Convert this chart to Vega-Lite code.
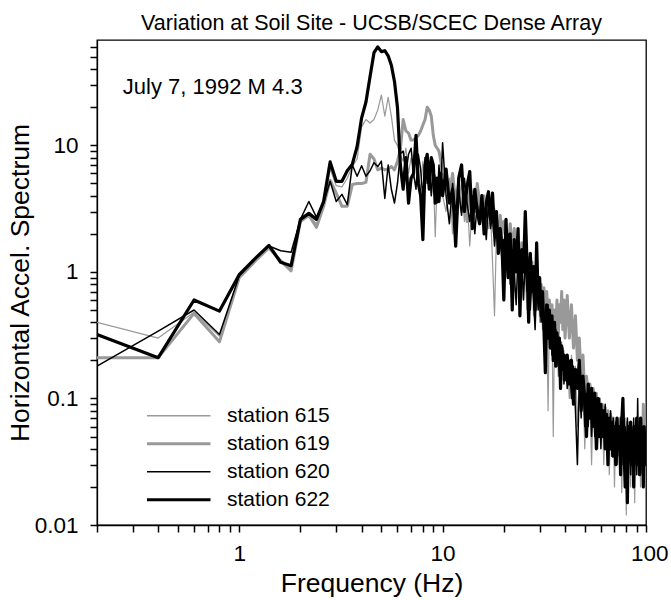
{
  "$schema": "https://vega.github.io/schema/vega-lite/v6.json",
  "autosize": {"type": "none"},
  "padding": {"left": 97, "top": 40, "right": 25, "bottom": 75},
  "width": 549,
  "height": 485,
  "background": "white",
  "title": {"text": "Variation at Soil Site - UCSB/SCEC Dense Array", "font": "Liberation Sans", "fontSize": 21.5, "fontWeight": "normal", "color": "black", "frame": "group", "anchor": "middle", "offset": 6},
  "config": {
    "view": {"stroke": "black", "strokeWidth": 1.3},
    "axis": {"grid": false, "ticks": true, "domainColor": "black", "domainWidth": 1.3, "tickColor": "black", "tickWidth": 1.5, "labelColor": "black", "titleColor": "black", "labelFont": "Liberation Sans", "titleFont": "Liberation Sans", "labelFontSize": 22.5, "titleFontSize": 26.5, "titleFontWeight": "normal"}
  },
  "data": {"values": [
    {"f":0.2,"615":0.40,"619":0.21,"620":0.18,"622":0.32},
    {"f":0.4,"615":0.30,"619":0.21,"620":0.34,"622":0.21},
    {"f":0.6,"615":0.48,"619":0.47,"620":0.50,"622":0.60},
    {"f":0.8,"615":0.31,"619":0.28,"620":0.32,"622":0.49},
    {"f":1.0,"615":0.92,"619":0.90,"620":0.93,"622":0.95},
    {"f":1.2,"615":1.25,"619":1.22,"620":1.27,"622":1.28},
    {"f":1.4,"615":1.58,"619":1.55,"620":1.60,"622":1.62},
    {"f":1.6,"615":1.25,"619":1.22,"620":1.47,"622":1.19},
    {"f":1.8,"615":1.08,"619":1.02,"620":1.43,"622":1.12},
    {"f":2.0,"615":2.5,"619":2.5,"620":2.6,"622":2.6},
    {"f":2.2,"615":2.8,"619":2.8,"620":3.6,"622":2.9},
    {"f":2.4,"615":2.4,"619":2.25,"620":2.7,"622":2.6},
    {"f":2.6,"615":3.4,"619":3.3,"620":3.5,"622":3.6},
    {"f":2.8,"615":6.5,"619":5.3,"620":5.2,"622":7.4},
    {"f":3.0,"615":4.8,"619":4.2,"620":3.6,"622":5.2},
    {"f":3.2,"615":4.7,"619":3.3,"620":4.1,"622":5.2},
    {"f":3.4,"615":5.5,"619":3.3,"620":3.4,"622":6.3},
    {"f":3.6,"615":6.8,"619":4.9,"620":7.0,"622":7.1},
    {"f":3.8,"615":7.8,"619":5.0,"620":5.7,"622":9.8},
    {"f":4.0,"615":14,"619":5.0,"620":6.9,"622":16.5},
    {"f":4.2,"615":16,"619":5.1,"620":5.7,"622":22},
    {"f":4.4,"615":15,"619":8.5,"620":6.3,"622":35},
    {"f":4.6,"615":16,"619":7.8,"620":7.3,"622":54},
    {"f":4.8,"615":19,"619":6.4,"620":6.8,"622":60},
    {"f":5.0,"615":25,"619":6.6,"620":7.5,"622":55},
    {"f":5.2,"615":17,"619":6.4,"620":3.8,"622":56},
    {"f":5.4,"615":24,"619":6.5,"620":7.0,"622":51},
    {"f":5.6,"615":17,"619":6.8,"620":4.5,"622":43},
    {"f":5.8,"615":11,"619":6.4,"620":3.5,"622":32},
    {"f":6.0,"615":10,"619":7.5,"620":5.0,"622":20},
    {"f":6.2,"615":8.5,"619":9.2,"620":8.6,"622":7.0},
    {"f":6.4,"615":7.5,"619":16,"620":9.0,"622":4.5},
    {"f":6.6,"615":9.5,"619":13,"620":6.0,"622":8.0},
    {"f":6.8,"615":6.0,"619":12.5,"620":8.5,"622":3.5},
    {"f":7.0,"615":8.0,"619":11,"620":9.5,"622":5.5},
    {"f":7.2,"615":5.5,"619":11,"620":6.0,"622":6.0},
    {"f":7.4,"615":9.0,"619":11.5,"620":4.5,"622":12},
    {"f":7.6,"615":6.0,"619":12,"620":8.5,"622":5.0},
    {"f":7.8,"615":4.5,"619":13,"620":6.5,"622":4.0},
    {"f":8.0,"615":7.5,"619":14.5,"620":3.8,"622":1.8},
    {"f":8.2,"615":5.0,"619":16,"620":8.0,"622":7.0},
    {"f":8.4,"615":8.0,"619":20,"620":5.0,"622":8.5},
    {"f":8.6,"615":6.5,"619":19,"620":7.5,"622":4.5},
    {"f":8.8,"615":4.0,"619":17,"620":4.0,"622":8.0},
    {"f":9.0,"615":6.0,"619":12,"620":6.5,"622":7.0},
    {"f":9.2,"615":1.9,"619":10,"620":5.5,"622":3.5},
    {"f":9.4,"615":5.0,"619":9.5,"620":3.5,"622":5.5},
    {"f":9.6,"615":3.5,"619":9.0,"620":7.0,"622":3.6},
    {"f":9.8,"615":6.0,"619":7.5,"620":4.5,"622":6.0},
    {"f":10.0,"615":4.0,"619":6.0,"620":10.5,"622":4.0},
    {"f":10.4,"615":3.0,"619":5.5,"620":4.0,"622":6.5},
    {"f":10.8,"615":5.5,"619":4.0,"620":2.4,"622":3.5},
    {"f":11.2,"615":2.0,"619":6.0,"620":5.0,"622":4.5},
    {"f":11.6,"615":4.5,"619":3.5,"620":3.0,"622":1.6},
    {"f":12.0,"615":3.5,"619":5.0,"620":4.5,"622":5.5},
    {"f":12.4,"615":5.0,"619":3.0,"620":2.8,"622":7.0},
    {"f":12.8,"615":2.5,"619":4.5,"620":5.5,"622":3.0},
    {"f":13.2,"615":4.0,"619":2.5,"620":3.5,"622":4.8},
    {"f":13.6,"615":1.6,"619":5.0,"620":2.5,"622":6.2},
    {"f":14.0,"615":3.5,"619":4.0,"620":4.0,"622":2.2},
    {"f":14.4,"615":3.0,"619":3.0,"620":2.0,"622":4.5},
    {"f":14.8,"615":4.2,"619":5.0,"620":3.5,"622":3.0},
    {"f":15.2,"615":2.6,"619":3.5,"620":2.4,"622":2.4},
    {"f":15.6,"615":3.8,"619":2.5,"620":4.0,"622":4.0},
    {"f":16.0,"615":2.0,"619":4.0,"620":2.8,"622":2.0},
    {"f":16.4,"615":3.2,"619":2.2,"620":1.8,"622":3.5},
    {"f":16.8,"615":2.2,"619":4.2,"620":3.5,"622":4.3},
    {"f":17.2,"615":3.0,"619":2.6,"620":2.2,"622":2.6},
    {"f":17.6,"615":1.2,"619":3.5,"620":2.8,"622":4.2},
    {"f":18.0,"615":0.45,"619":3.0,"620":1.6,"622":2.0},
    {"f":18.4,"615":2.0,"619":2.6,"620":2.4,"622":3.0},
    {"f":18.8,"615":2.5,"619":1.8,"620":1.5,"622":1.4},
    {"f":19.2,"615":1.5,"619":2.8,"620":2.0,"622":2.2},
    {"f":19.6,"615":2.0,"619":2.0,"620":1.2,"622":1.6},
    {"f":20.0,"615":1.4,"619":2.5,"620":1.8,"622":0.6},
    {"f":20.5,"615":1.8,"619":2.2,"620":1.2,"622":2.6},
    {"f":21.0,"615":1.1,"619":1.6,"620":2.0,"622":0.9},
    {"f":21.5,"615":2.0,"619":2.4,"620":0.8,"622":2.0},
    {"f":22.0,"615":1.3,"619":1.4,"620":1.5,"622":0.5},
    {"f":22.5,"615":0.7,"619":2.2,"620":1.0,"622":1.8},
    {"f":23.0,"615":1.6,"619":1.5,"620":0.55,"622":1.0},
    {"f":23.5,"615":1.0,"619":1.9,"620":1.4,"622":2.2},
    {"f":24.0,"615":1.5,"619":1.1,"620":0.8,"622":0.45},
    {"f":24.5,"615":0.6,"619":1.7,"620":1.2,"622":1.5},
    {"f":25.0,"615":1.2,"619":1.0,"620":0.6,"622":1.0},
    {"f":25.5,"615":0.9,"619":1.5,"620":1.3,"622":3.0},
    {"f":26.0,"615":0.5,"619":1.0,"620":0.7,"622":1.2},
    {"f":26.5,"615":1.1,"619":1.3,"620":1.0,"622":0.4},
    {"f":27.0,"615":0.7,"619":0.8,"620":0.5,"622":1.4},
    {"f":27.5,"615":1.0,"619":1.2,"620":0.9,"622":0.7},
    {"f":28.0,"615":0.45,"619":0.7,"620":0.6,"622":1.1},
    {"f":28.5,"615":0.8,"619":1.0,"620":0.35,"622":0.5},
    {"f":29.0,"615":0.6,"619":0.65,"620":0.8,"622":1.7},
    {"f":29.5,"615":0.9,"619":0.9,"620":0.5,"622":0.6},
    {"f":30.0,"615":0.4,"619":0.6,"620":0.7,"622":0.9},
    {"f":30.5,"615":0.65,"619":0.8,"620":0.4,"622":0.45},
    {"f":31.0,"615":0.35,"619":0.55,"620":0.6,"622":0.7},
    {"f":31.5,"615":0.6,"619":0.75,"620":0.3,"622":0.35},
    {"f":32.0,"615":0.3,"619":0.5,"620":0.5,"622":0.16},
    {"f":32.5,"615":0.5,"619":0.7,"620":0.35,"622":0.55},
    {"f":33.0,"615":0.08,"619":0.45,"620":0.55,"622":0.3},
    {"f":33.5,"615":0.45,"619":0.6,"620":0.25,"622":0.5},
    {"f":34.0,"615":0.3,"619":0.35,"620":0.45,"622":0.25},
    {"f":34.5,"615":0.4,"619":0.55,"620":0.22,"622":0.45},
    {"f":35.0,"615":0.05,"619":0.3,"620":0.4,"622":0.2},
    {"f":35.5,"615":0.35,"619":0.5,"620":0.2,"622":0.4},
    {"f":36.0,"615":0.25,"619":0.35,"620":0.35,"622":0.18},
    {"f":36.5,"615":0.35,"619":0.6,"620":0.18,"622":0.33},
    {"f":37.0,"615":0.15,"619":0.3,"620":0.3,"622":0.22},
    {"f":37.5,"615":0.3,"619":0.55,"620":0.15,"622":0.3},
    {"f":38.0,"615":0.2,"619":0.4,"620":0.28,"622":0.12},
    {"f":38.5,"615":0.28,"619":0.7,"620":0.17,"622":0.26},
    {"f":39.0,"615":0.14,"619":0.35,"620":0.25,"622":0.17},
    {"f":39.5,"615":0.24,"619":0.6,"620":0.13,"622":0.22},
    {"f":40,"615":0.16,"619":0.3,"620":0.22,"622":0.14},
    {"f":41,"615":0.2,"619":0.65,"620":0.12,"622":0.22},
    {"f":42,"615":0.1,"619":0.3,"620":0.2,"622":0.13},
    {"f":43,"615":0.22,"619":0.55,"620":0.1,"622":0.2},
    {"f":44,"615":0.12,"619":0.25,"620":0.18,"622":0.09},
    {"f":45,"615":0.18,"619":0.45,"620":0.08,"622":0.17},
    {"f":46,"615":0.06,"619":0.2,"620":0.03,"622":0.12},
    {"f":47,"615":0.16,"619":0.3,"620":0.14,"622":0.2},
    {"f":48,"615":0.09,"619":0.14,"620":0.07,"622":0.08},
    {"f":49,"615":0.14,"619":0.22,"620":0.15,"622":0.15},
    {"f":50,"615":0.04,"619":0.1,"620":0.06,"622":0.1},
    {"f":51,"615":0.12,"619":0.15,"620":0.11,"622":0.05},
    {"f":52,"615":0.07,"619":0.1,"620":0.06,"622":0.13},
    {"f":53,"615":0.11,"619":0.13,"620":0.12,"622":0.07},
    {"f":54,"615":0.03,"619":0.08,"620":0.05,"622":0.12},
    {"f":55,"615":0.1,"619":0.12,"620":0.1,"622":0.06},
    {"f":56,"615":0.06,"619":0.07,"620":0.05,"622":0.11},
    {"f":57,"615":0.09,"619":0.11,"620":0.09,"622":0.04},
    {"f":58,"615":0.04,"619":0.06,"620":0.06,"622":0.1},
    {"f":59,"615":0.08,"619":0.1,"620":0.1,"622":0.05},
    {"f":60,"615":0.05,"619":0.06,"620":0.04,"622":0.09},
    {"f":61,"615":0.09,"619":0.09,"620":0.08,"622":0.05},
    {"f":62,"615":0.03,"619":0.05,"620":0.05,"622":0.08},
    {"f":63,"615":0.08,"619":0.085,"620":0.09,"622":0.04},
    {"f":64,"615":0.05,"619":0.045,"620":0.04,"622":0.075},
    {"f":65,"615":0.075,"619":0.08,"620":0.07,"622":0.03},
    {"f":66,"615":0.025,"619":0.05,"620":0.045,"622":0.07},
    {"f":67,"615":0.07,"619":0.075,"620":0.08,"622":0.04},
    {"f":68,"615":0.04,"619":0.04,"620":0.035,"622":0.065},
    {"f":69,"615":0.065,"619":0.07,"620":0.07,"622":0.035},
    {"f":70,"615":0.02,"619":0.045,"620":0.04,"622":0.06},
    {"f":71,"615":0.06,"619":0.065,"620":0.065,"622":0.03},
    {"f":72,"615":0.035,"619":0.035,"620":0.03,"622":0.07},
    {"f":73,"615":0.07,"619":0.06,"620":0.06,"622":0.04},
    {"f":74,"615":0.03,"619":0.04,"620":0.035,"622":0.06},
    {"f":75,"615":0.055,"619":0.07,"620":0.07,"622":0.025},
    {"f":76,"615":0.018,"619":0.035,"620":0.03,"622":0.065},
    {"f":77,"615":0.06,"619":0.06,"620":0.065,"622":0.1},
    {"f":78,"615":0.03,"619":0.03,"620":0.03,"622":0.04},
    {"f":79,"615":0.07,"619":0.055,"620":0.06,"622":0.02},
    {"f":80,"615":0.012,"619":0.04,"620":0.035,"622":0.05},
    {"f":81,"615":0.055,"619":0.065,"620":0.07,"622":0.015},
    {"f":82,"615":0.025,"619":0.03,"620":0.03,"622":0.06},
    {"f":83,"615":0.06,"619":0.05,"620":0.05,"622":0.035},
    {"f":84,"615":0.02,"619":0.035,"620":0.025,"622":0.065},
    {"f":85,"615":0.065,"619":0.06,"620":0.06,"622":0.03},
    {"f":86,"615":0.03,"619":0.025,"620":0.035,"622":0.055},
    {"f":87,"615":0.05,"619":0.055,"620":0.07,"622":0.02},
    {"f":88,"615":0.015,"619":0.03,"620":0.03,"622":0.06},
    {"f":89,"615":0.06,"619":0.06,"620":0.055,"622":0.035},
    {"f":90,"615":0.025,"619":0.035,"620":0.025,"622":0.07},
    {"f":91,"615":0.07,"619":0.065,"620":0.1,"622":0.03},
    {"f":92,"615":0.03,"619":0.03,"620":0.03,"622":0.06},
    {"f":93,"615":0.055,"619":0.055,"620":0.06,"622":0.025},
    {"f":94,"615":0.02,"619":0.035,"620":0.025,"622":0.07},
    {"f":95,"615":0.06,"619":0.07,"620":0.07,"622":0.035},
    {"f":96,"615":0.03,"619":0.03,"620":0.03,"622":0.055},
    {"f":97,"615":0.065,"619":0.09,"620":0.06,"622":0.02},
    {"f":98,"615":0.025,"619":0.04,"620":0.035,"622":0.06},
    {"f":99,"615":0.06,"619":0.06,"620":0.055,"622":0.03},
    {"f":100,"615":0.03,"619":0.04,"620":0.035,"622":0.04}
  ]},
  "layer": [
    {
      "transform": [{"fold": ["615", "619", "620", "622"], "as": ["station", "v"]}],
      "mark": {"type": "line", "clip": true, "strokeJoin": "round", "strokeCap": "butt"},
      "encoding": {
        "x": {"field": "f", "type": "quantitative",
          "scale": {"type": "log", "domain": [0.2, 100], "nice": false},
          "axis": {"orient": "bottom", "title": "Frequency (Hz)", "titlePadding": 6, "labelPadding": 10, "labelFlushOffset": 22, "format": "~g", "tickSize": 7,
            "values": [0.2,0.3,0.4,0.5,0.6,0.7,0.8,0.9,1,2,3,4,5,6,7,8,9,10,20,30,40,50,60,70,80,90,100],
            "labelExpr": "datum.value == 1 || datum.value == 10 || datum.value == 100 ? datum.label : ''"}},
        "y": {"field": "v", "type": "quantitative",
          "scale": {"type": "log", "domain": [0.01, 68], "nice": false},
          "axis": {"orient": "left", "title": "Horizontal Accel. Spectrum", "titlePadding": 0, "labelPadding": 12, "format": "~g", "tickSize": 7,
            "values": [0.01,0.02,0.03,0.04,0.05,0.06,0.07,0.08,0.09,0.1,0.2,0.3,0.4,0.5,0.6,0.7,0.8,0.9,1,2,3,4,5,6,7,8,9,10,20,30,40,50,60],
            "labelExpr": "datum.value == 0.01 || datum.value == 0.1 || datum.value == 1 || datum.value == 10 ? datum.label : ''"}},
        "color": {"field": "station", "type": "nominal",
          "scale": {"domain": ["615", "619", "620", "622"], "range": ["#999999", "#999999", "#000000", "#000000"]},
          "legend": {"orient": "none", "legendX": 50, "legendY": 362, "title": null, "symbolType": "stroke", "symbolSize": 4096, "symbolOffset": 21, "clipHeight": 27.5, "rowPadding": 0, "labelOffset": 38, "labelFont": "Liberation Sans", "labelFontSize": 21, "labelColor": "black", "labelLimit": 300,
            "labelExpr": "'station ' + datum.label",
            "encode": {"symbols": {"update": {"strokeWidth": {"signal": "datum.value == '619' || datum.value == '622' ? 3.2 : 1.3"}}}}}},
        "strokeWidth": {"condition": [{"test": "datum.station == '619'", "value": 3}, {"test": "datum.station == '622'", "value": 3.2}, {"test": "datum.station == '620'", "value": 1.5}], "value": 1.2}
      }
    },
    {
      "data": {"values": [{"note": "July 7, 1992 M 4.3"}]},
      "mark": {"type": "text", "align": "left", "baseline": "middle", "font": "Liberation Sans", "fontSize": 22, "color": "black"},
      "encoding": {
        "text": {"field": "note"},
        "x": {"datum": 0.268, "type": "quantitative"},
        "y": {"datum": 29, "type": "quantitative"}
      }
    }
  ]
}
